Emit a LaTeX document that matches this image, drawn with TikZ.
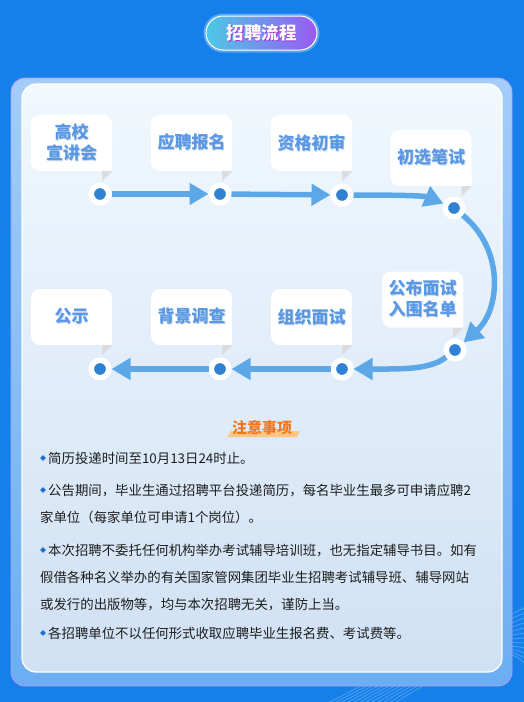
\documentclass[tikz,border=0pt]{standalone}
\usepackage{fontspec}
\setmainfont{Noto Sans CJK SC}
\usetikzlibrary{arrows.meta,shapes.geometric}
\definecolor{bgblue}{HTML}{1580EA}
\definecolor{panelhi}{HTML}{A3CDF8}
\definecolor{panello}{HTML}{6BAEF3}
\definecolor{panelrim}{HTML}{B59BF2}
\definecolor{innerhi}{HTML}{F1F8FE}
\definecolor{innerlo}{HTML}{D0E1F4}
\definecolor{flowblue}{HTML}{5CA7E8}
\definecolor{dotblue}{HTML}{2F82D2}
\definecolor{cardtext}{HTML}{5898E4}
\definecolor{cardshade}{HTML}{C9D8EA}
\definecolor{tailgray}{HTML}{DCDDE0}
\definecolor{pillleft}{HTML}{4CC9E6}
\definecolor{pillright}{HTML}{9A5AF2}
\definecolor{titleshadow}{HTML}{A62FD8}
\definecolor{noteorange}{HTML}{F4761C}
\definecolor{notemark}{HTML}{FFC583}
\definecolor{bulletblue}{HTML}{1E6FD2}
\definecolor{bodytext}{HTML}{1E1E1E}

% text with a small drop shadow
\newcommand\shtext[2]{\makebox[0pt][l]{\hspace{0.9pt}\raisebox{-1pt}{\textcolor{#1}{#2}}}#2}

\tikzset{
  card/.style={fill=white, rounded corners=9pt, minimum width=81pt, minimum height=56pt,
    inner sep=0pt, align=center, text=cardtext,
    font=\fontsize{17}{21}\selectfont\bfseries},
  dot/.style={circle, fill=dotblue, draw=white, line width=5.5pt, minimum size=17.5pt, inner sep=0pt},
  flow/.style={-{Triangle[length=19pt,width=21pt]}, line width=5.5pt, draw=flowblue},
  bullet/.style={diamond, fill=bulletblue, minimum width=6pt, minimum height=6pt, inner sep=0pt},
  line/.style={anchor=base west, inner sep=0pt, text=bodytext, font=\fontsize{13.4}{27}\selectfont},
  decor/.style={white, opacity=0.12, line width=0.7pt},
}

\begin{document}
\begin{tikzpicture}[x=1pt, y=-1pt]
\useasboundingbox (0,0) rectangle (524,702);
\fill[bgblue] (0,0) rectangle (524,702);

% faint background waves
\foreach \r in {100,104,...,156}
  \draw[decor] (-30,-60) ++(-5:\r) arc (-5:-95:\r);
\foreach \k in {0,...,11}
  \draw[decor, opacity=0.28] (330+6*\k,702) .. controls (410+5*\k,660) and (460+4*\k,640) .. (524,608+5*\k);

% panels
\draw[panelrim, line width=0.8pt, top color=panelhi, bottom color=panello, rounded corners=14pt]
  (11,78) rectangle (512,686);
\draw[white, line width=1.2pt, top color=innerhi, bottom color=innerlo, rounded corners=14pt]
  (22,84) rectangle (502,672);

% title
\node[rectangle, rounded corners=17pt, minimum width=111pt, minimum height=34pt,
  left color=pillleft, right color=pillright, draw=white, line width=1pt,
  preaction={draw=white, opacity=0.3, line width=5pt},
  text=white, font=\fontsize{17.5}{20}\selectfont\bfseries] (title) at (261.5,33)
  {\shtext{titleshadow}{招聘流程}};

% cards, top row
\node[card] (c1) at (71.5,143) {\shtext{cardshade}{高校}\\\shtext{cardshade}{宣讲会}};
\node[card] (c2) at (191.5,143) {\shtext{cardshade}{应聘报名}};
\node[card] (c3) at (311.5,143) {\shtext{cardshade}{资格初审}};
\node[card] (c4) at (431,158) {\shtext{cardshade}{初选笔试}};
% cards, bottom row
\node[card] (c5) at (422.5,299.5) {\shtext{cardshade}{公布面试}\\\shtext{cardshade}{入围名单}};
\node[card] (c6) at (311.5,317) {\shtext{cardshade}{组织面试}};
\node[card] (c7) at (191.5,317) {\shtext{cardshade}{背景调查}};
\node[card] (c8) at (71.5,317) {\shtext{cardshade}{公示}};

% bubble tails
\foreach \c in {c1,c2,c3,c4,c5,c6,c7,c8} {
  \fill[white] (\c.south east) rectangle ++(-10,-10);
  \fill[tailgray] (\c.south east) -- ++(-10,0) -- ++(0,10) -- cycle;
}

% steps
\node[dot] (d1) at (100,194) {};
\node[dot] (d2) at (220,194) {};
\node[dot] (d3) at (342,195) {};
\node[dot] (d4) at (454,208) {};
\node[dot] (d5) at (455,350) {};
\node[dot] (d6) at (342,369) {};
\node[dot] (d7) at (220,369) {};
\node[dot] (d8) at (100,369) {};

\draw[flow] (d1) -- (d2);
\draw[flow] (d2) -- (d3);
\draw[flow] (d3) .. controls (405,195) and (425,196) .. (d4);
\draw[flow] (d4) .. controls (505,250) and (500,310) .. (d5);
\draw[flow] (d5) .. controls (430,370) and (400,369) .. (d6);
\draw[flow] (d6) -- (d7);
\draw[flow] (d7) -- (d8);

% notes
\fill[notemark] (231,431) -- (300,431) -- (297,437) -- (227,437) -- cycle;
\node[text=noteorange, font=\fontsize{15}{18}\selectfont\bfseries] (notes) at (262,428) {注意事项};

\node[bullet] (b1) at (43,458) {};
\node[line] (l1) at (48,463) {简历投递时间至10月13日24时止。};
\node[bullet] (b2) at (43,490) {};
\node[line] (l2) at (48,495) {公告期间，毕业生通过招聘平台投递简历，每名毕业生最多可申请应聘2};
\node[line] (l3) at (40,522) {家单位（每家单位可申请1个岗位）。};
\node[bullet] (b3) at (43,550) {};
\node[line] (l4) at (48,555) {本次招聘不委托任何机构举办考试辅导培训班，也无指定辅导书目。如有};
\node[line] (l5) at (40,582) {假借各种名义举办的有关国家管网集团毕业生招聘考试辅导班、辅导网站};
\node[line] (l6) at (40,609) {或发行的出版物等，均与本次招聘无关，谨防上当。};
\node[bullet] (b4) at (43,633) {};
\node[line] (l7) at (48,638) {各招聘单位不以任何形式收取应聘毕业生报名费、考试费等。};
\end{tikzpicture}
\end{document}
